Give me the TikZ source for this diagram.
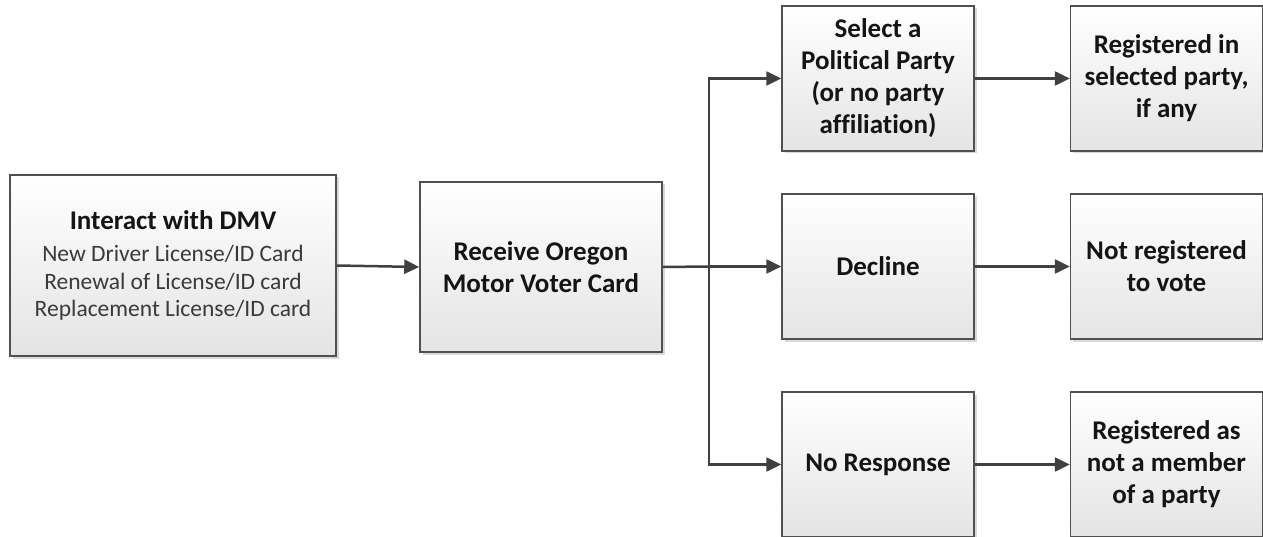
\documentclass[tikz,border=0pt]{standalone}
\usepackage{fontspec}
\setmainfont{Carlito}[Ligatures=NoCommon]
\usetikzlibrary{arrows.meta,shadows}
\definecolor{edgec}{HTML}{505050}
\definecolor{arrowc}{HTML}{404040}
\definecolor{boxbot}{HTML}{E4E4E4}
\definecolor{subtext}{HTML}{3A3A3A}
\begin{document}
\begin{tikzpicture}[x=1pt,y=-1pt,
  box/.style={draw=edgec, line width=1.5pt, top color=white, bottom color=boxbot,
    align=center, inner sep=0pt, text=black!92,
    font=\fontsize{27}{32}\selectfont\bfseries,
    drop shadow={shadow xshift=2.5pt,shadow yshift=-2.5pt,opacity=0.25,fill=black!60}},
  colbox/.style={box, minimum width=192pt, minimum height=145pt},
  arr/.style={draw=arrowc, line width=2.5pt, -{Triangle[length=15pt,width=14pt]}},
  ln/.style={draw=arrowc, line width=2.5pt}]
\useasboundingbox (0,0) rectangle (1263,537);
\node[box, minimum width=326pt, minimum height=181pt,
      font=\fontsize{23.5}{27.5}\selectfont, text=subtext] (dmv) at (173,265.5)
  {{\fontsize{27}{32}\selectfont\bfseries\color{black!92}Interact with DMV}\\[4.5pt]
   New Driver License/ID Card\\
   Renewal of License/ID card\\
   Replacement License/ID card};
\node[box, minimum width=242pt, minimum height=170pt] (card) at (541,267)
  {Receive Oregon\\Motor Voter Card};
\node[colbox] (select) at (878,78.5) {Select a\\Political Party\\(or no party\\affiliation)};
\node[colbox] (decline) at (878,266.5) {Decline};
\node[colbox] (noresp) at (878,464.5) {No Response};
\node[colbox] (regin) at (1166.5,78.5) {Registered in\\selected party,\\if any};
\node[colbox] (notreg) at (1166.5,266.5) {Not registered\\to vote};
\node[colbox] (regas) at (1166.5,464.5) {Registered as\\not a member\\of a party};
\coordinate (split) at (709,266.5);
\draw[arr] (dmv.east) -- (card.west);
\draw[ln] (card.east) -- (split);
\draw[arr] (split) |- (select.west);
\draw[arr] (split) -- (decline.west);
\draw[arr] (split) |- (noresp.west);
\draw[arr] (select) -- (regin);
\draw[arr] (decline) -- (notreg);
\draw[arr] (noresp) -- (regas);
\end{tikzpicture}
\end{document}
